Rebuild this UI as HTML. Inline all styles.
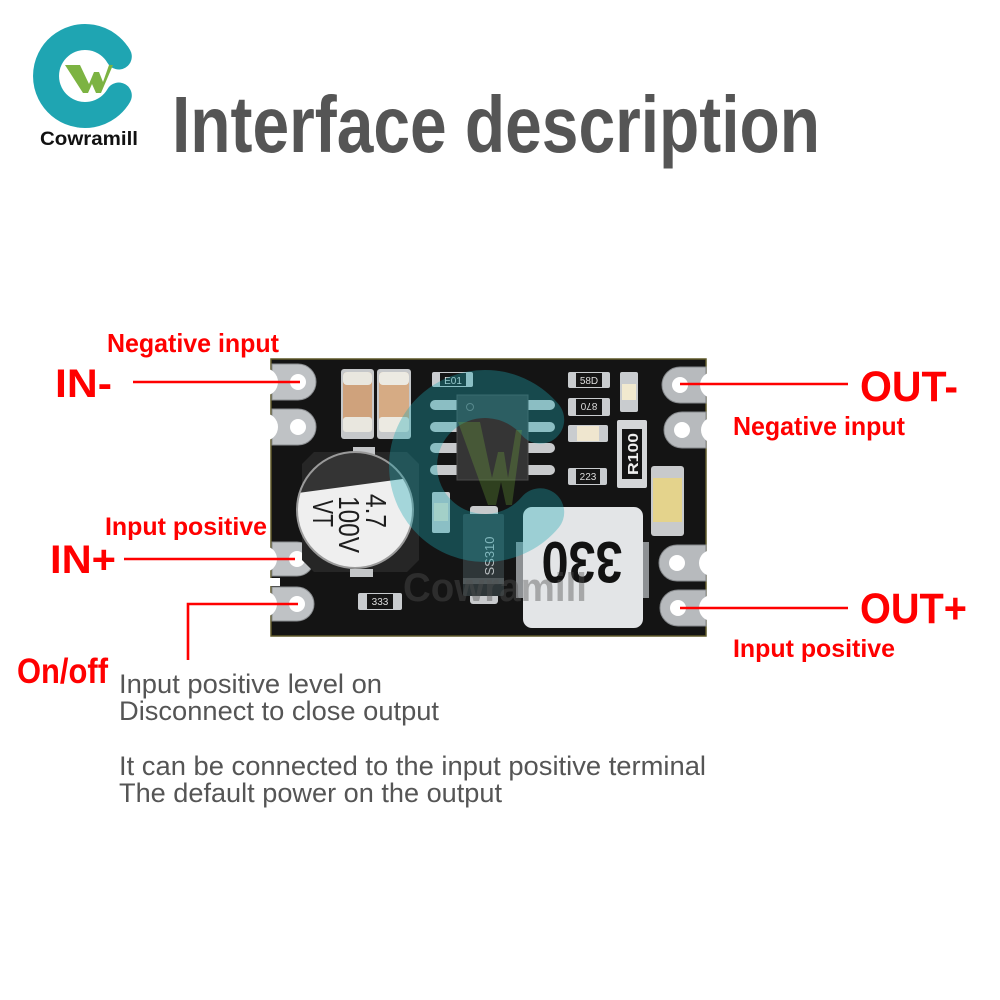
<!DOCTYPE html>
<html><head><meta charset="utf-8">
<style>html,body{margin:0;padding:0;background:#fff}svg{display:block}</style>
</head>
<body>
<svg width="1000" height="1000" viewBox="0 0 1000 1000" xmlns="http://www.w3.org/2000/svg" font-family="Liberation Sans, sans-serif">
<defs>
  <clipPath id="capclip"><circle cx="355" cy="510" r="58"/></clipPath>
</defs>
<rect width="1000" height="1000" fill="#fff"/>

<!-- ===== Logo ===== -->
<path d="M118.8,56.5 A39,39 0 1 0 118.8,95.5" fill="none" stroke="#1fa5b2" stroke-width="26" stroke-linecap="round"/>
<polygon points="65,65 80,65 89,84 94,72 99,72 103,82 109,65 113,65 101,93 96,93 92,84 88,93 83,93" fill="#7cb342"/>
<text x="40" y="145" font-size="19" font-weight="bold" fill="#111" textLength="98" lengthAdjust="spacingAndGlyphs">Cowramill</text>

<!-- ===== Title ===== -->
<text x="172" y="152" font-size="80" font-weight="bold" fill="#555" textLength="648" lengthAdjust="spacingAndGlyphs">Interface description</text>

<!-- ===== PCB board ===== -->
<rect x="271" y="359" width="435" height="277" fill="#141414" stroke="#5e5828" stroke-width="1.5"/>

<!-- left pads -->
<g fill="#bfc2c5" stroke="#8a8d90" stroke-width="1">
  <path d="M272,364 H298 A18,18 0 0 1 298,400 H272 Z"/>
  <path d="M272,409 H298 A18,18 0 0 1 298,445 H272 Z"/>
  <path d="M272,542 H297 A17,17 0 0 1 297,576 H272 Z"/>
  <path d="M272,587 H297 A17,17 0 0 1 297,621 H272 Z"/>
</g>
<g fill="#fff">
  <circle cx="298" cy="382" r="8"/>
  <circle cx="298" cy="427" r="8"/>
  <circle cx="297" cy="559" r="8"/>
  <circle cx="297" cy="604" r="8"/>
  <circle cx="264" cy="382" r="14"/>
  <circle cx="264" cy="427" r="14"/>
  <circle cx="264" cy="559" r="13"/>
  <circle cx="264" cy="604" r="13"/>
  <rect x="262" y="578" width="18" height="8"/>
</g>

<!-- right pads -->
<g fill="#b7babd" stroke="#85888b" stroke-width="1">
  <path d="M706,367 H680 A18,18 0 0 0 680,403 H706 Z"/>
  <path d="M706,412 H682 A18,18 0 0 0 682,448 H706 Z"/>
  <path d="M706,545 H677 A18,18 0 0 0 677,581 H706 Z"/>
  <path d="M706,590 H678 A18,18 0 0 0 678,626 H706 Z"/>
</g>
<g fill="#fff">
  <circle cx="680" cy="385" r="8"/>
  <circle cx="682" cy="430" r="8"/>
  <circle cx="677" cy="563" r="8"/>
  <circle cx="678" cy="608" r="8"/>
  <circle cx="713" cy="385" r="13"/>
  <circle cx="714" cy="430" r="13"/>
  <circle cx="712" cy="563" r="13"/>
  <circle cx="712" cy="608" r="13"/>
</g>

<!-- ceramic caps -->
<g>
  <rect x="341" y="369" width="33" height="70" rx="3" fill="#c6c8ca"/>
  <rect x="343" y="372" width="29" height="60" rx="4" fill="#cfa27c"/>
  <rect x="343" y="372" width="29" height="13" rx="4" fill="#e9e7df"/>
  <rect x="343" y="417" width="29" height="15" rx="3" fill="#e9e7df"/>
  <rect x="377" y="369" width="34" height="70" rx="3" fill="#c6c8ca"/>
  <rect x="379" y="372" width="30" height="60" rx="4" fill="#d6ab84"/>
  <rect x="379" y="372" width="30" height="13" rx="4" fill="#eceae2"/>
  <rect x="379" y="417" width="30" height="15" rx="3" fill="#eceae2"/>
</g>

<!-- electrolytic capacitor -->
<path d="M314,452 H407 L419,464 V560 L407,572 H314 L302,560 V464 Z" fill="#262626"/>
<rect x="353" y="447" width="22" height="8" fill="#c4c6c8"/>
<rect x="350" y="569" width="23" height="8" fill="#c4c6c8"/>
<circle cx="355" cy="510" r="58" fill="#efefef"/>
<g clip-path="url(#capclip)">
  <polygon points="290,440 425,440 425,476 290,494" fill="#343434"/>
</g>
<circle cx="355" cy="510" r="58" fill="none" stroke="#9a9a9a" stroke-width="2"/>
<g fill="#1e1e1e" font-size="29">
  <text transform="translate(366,494) rotate(90)" textLength="34" lengthAdjust="spacingAndGlyphs">4.7</text>
  <text transform="translate(339,496) rotate(90)" textLength="57" lengthAdjust="spacingAndGlyphs">100V</text>
  <text transform="translate(313,500) rotate(90)" textLength="27" lengthAdjust="spacingAndGlyphs">VT</text>
</g>

<!-- IC SOP-8 -->
<g fill="#c8cacc">
  <rect x="430" y="400" width="32" height="10" rx="5"/>
  <rect x="430" y="422" width="32" height="10" rx="5"/>
  <rect x="430" y="443" width="32" height="10" rx="5"/>
  <rect x="430" y="465" width="32" height="10" rx="5"/>
  <rect x="523" y="400" width="32" height="10" rx="5"/>
  <rect x="523" y="422" width="32" height="10" rx="5"/>
  <rect x="523" y="443" width="32" height="10" rx="5"/>
  <rect x="523" y="465" width="32" height="10" rx="5"/>
</g>
<rect x="457" y="395" width="71" height="85" fill="#353535" stroke="#4a4a4a" stroke-width="1"/>
<circle cx="470" cy="407" r="3.5" fill="none" stroke="#777" stroke-width="1"/>

<!-- small SMD resistors -->
<g>
  <rect x="432" y="372" width="41" height="15" rx="2" fill="#c9cccf"/>
  <rect x="440" y="373" width="26" height="13" fill="#151515"/>
  <text x="453" y="384" font-size="10" fill="#ddd" text-anchor="middle">E01</text>

  <rect x="568" y="372" width="42" height="16" rx="2" fill="#c9cccf"/>
  <rect x="576" y="373" width="26" height="14" fill="#151515"/>
  <text x="589" y="384" font-size="10" fill="#ddd" text-anchor="middle">58D</text>

  <rect x="568" y="398" width="42" height="18" rx="2" fill="#c9cccf"/>
  <rect x="576" y="399" width="26" height="16" fill="#151515"/>
  <text x="589" y="411" font-size="10" fill="#ddd" text-anchor="middle" transform="rotate(180 589 407)">870</text>

  <rect x="568" y="425" width="40" height="17" rx="2" fill="#c9cccf"/>
  <rect x="577" y="426" width="22" height="15" fill="#efe6cf"/>

  <rect x="568" y="468" width="39" height="17" rx="2" fill="#c9cccf"/>
  <rect x="576" y="469" width="24" height="15" fill="#151515"/>
  <text x="588" y="480" font-size="10" fill="#ddd" text-anchor="middle">223</text>

  <rect x="358" y="593" width="44" height="17" rx="2" fill="#c9cccf"/>
  <rect x="367" y="594" width="26" height="15" fill="#151515"/>
  <text x="380" y="605" font-size="10" fill="#ddd" text-anchor="middle">333</text>
</g>

<!-- LED small -->
<rect x="620" y="372" width="18" height="40" rx="2" fill="#c9cccf"/>
<rect x="622" y="384" width="14" height="16" fill="#f1e9cf"/>

<!-- R100 -->
<rect x="617" y="420" width="30" height="68" rx="2" fill="#d4d6d8"/>
<rect x="622" y="429" width="20" height="50" fill="#141414"/>
<text transform="translate(638,454) rotate(-90)" font-size="15" font-weight="bold" fill="#eee" text-anchor="middle" textLength="42" lengthAdjust="spacingAndGlyphs">R100</text>

<!-- yellow cap -->
<rect x="651" y="466" width="33" height="70" rx="3" fill="#c8cacc"/>
<rect x="653" y="478" width="29" height="44" fill="#e4d38c"/>

<!-- small cap left of diode -->
<rect x="432" y="492" width="18" height="41" rx="2" fill="#c9cccf"/>
<rect x="434" y="503" width="14" height="18" fill="#eee7d3"/>

<!-- diode SS310 -->
<rect x="470" y="506" width="28" height="14" rx="3" fill="#c8cacc"/>
<rect x="470" y="590" width="28" height="14" rx="3" fill="#c8cacc"/>
<rect x="463" y="514" width="41" height="82" rx="2" fill="#2e3638"/>
<rect x="463" y="578" width="41" height="6" fill="#50585a"/>
<text transform="translate(494,556) rotate(-90)" font-size="13" fill="#b9bfc1" text-anchor="middle">SS310</text>

<!-- inductor 330 -->
<rect x="516" y="542" width="10" height="56" fill="#8d9093"/>
<rect x="640" y="542" width="9" height="56" fill="#8d9093"/>
<rect x="523" y="507" width="120" height="121" rx="9" fill="#e3e5e7"/>
<text x="582" y="584" font-size="58" font-weight="bold" fill="#121212" text-anchor="middle" textLength="81" lengthAdjust="spacingAndGlyphs" transform="rotate(180 582 563)">330</text>

<!-- watermark -->
<path d="M540.2,419.7 A72,72 0 1 0 540.2,512.3" fill="none" stroke="rgba(30,170,180,0.36)" stroke-width="48" stroke-linecap="round"/>
<polygon points="458,422 480,422 492,478 498,452 504,452 508,478 516,430 522,430 512,505 506,505 501,482 496,505 488,505" fill="rgba(120,180,60,0.28)"/>
<text x="403" y="601" font-size="40" font-weight="bold" fill="rgba(80,80,80,0.42)" textLength="184" lengthAdjust="spacingAndGlyphs">Cowramill</text>

<!-- ===== Red connector lines ===== -->
<g stroke="#ff0000" stroke-width="2.6" fill="none">
  <line x1="133" y1="382" x2="300" y2="382"/>
  <line x1="124" y1="559" x2="295" y2="559"/>
  <polyline points="298,604 188,604 188,660"/>
  <line x1="680" y1="384" x2="848" y2="384"/>
  <line x1="680" y1="608" x2="848" y2="608"/>
</g>

<!-- ===== Red labels ===== -->
<g fill="#ff0000" font-weight="bold">
  <text x="107" y="352" font-size="26" textLength="172" lengthAdjust="spacingAndGlyphs">Negative input</text>
  <text x="55" y="397" font-size="40" textLength="57" lengthAdjust="spacingAndGlyphs">IN-</text>
  <text x="105" y="535" font-size="25" textLength="162" lengthAdjust="spacingAndGlyphs">Input positive</text>
  <text x="50" y="573" font-size="40" textLength="66" lengthAdjust="spacingAndGlyphs">IN+</text>
  <text x="17" y="683" font-size="35" textLength="91" lengthAdjust="spacingAndGlyphs">On/off</text>
  <text x="860" y="401" font-size="43" textLength="98" lengthAdjust="spacingAndGlyphs">OUT-</text>
  <text x="733" y="435" font-size="26" textLength="172" lengthAdjust="spacingAndGlyphs">Negative input</text>
  <text x="860" y="623" font-size="43" textLength="107" lengthAdjust="spacingAndGlyphs">OUT+</text>
  <text x="733" y="657" font-size="25" textLength="162" lengthAdjust="spacingAndGlyphs">Input positive</text>
</g>

<!-- ===== Gray description ===== -->
<g fill="#555" font-size="27">
  <text x="119" y="693" textLength="263" lengthAdjust="spacingAndGlyphs">Input positive level on</text>
  <text x="119" y="720" textLength="320" lengthAdjust="spacingAndGlyphs">Disconnect to close output</text>
  <text x="119" y="775" textLength="587" lengthAdjust="spacingAndGlyphs">It can be connected to the input positive terminal</text>
  <text x="119" y="802" textLength="383" lengthAdjust="spacingAndGlyphs">The default power on the output</text>
</g>
</svg>
</body></html>
